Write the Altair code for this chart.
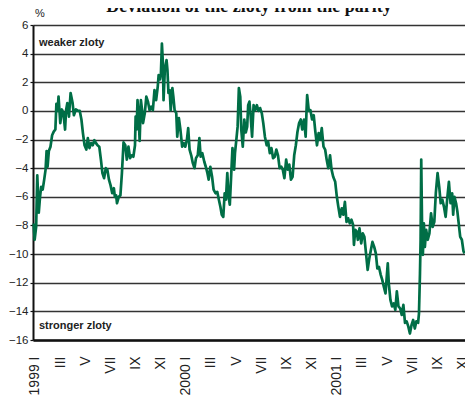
import json
import altair as alt
import pandas as pd

# time in months since January 1999 (0 = Jan 1999)
months = [
    -0.10, -0.02, 0.10, 0.19, 0.31, 0.41, 0.50, 0.62, 0.74, 0.85,
    0.93, 1.01, 1.11, 1.24, 1.37, 1.50, 1.63, 1.71, 1.81, 1.88,
    2.02, 2.15, 2.27, 2.40, 2.48, 2.58, 2.71, 2.84, 3.00, 3.10,
    3.26, 3.43, 3.57, 3.70, 3.82, 3.95, 4.09, 4.21, 4.34, 4.47,
    4.60, 4.73, 4.86, 4.98, 5.12, 5.25, 5.37, 5.50, 5.64, 5.76,
    5.89, 6.02, 6.15, 6.28, 6.36, 6.46, 6.53, 6.67, 6.80, 6.92,
    7.05, 7.19, 7.31, 7.44, 7.57, 7.70, 7.83, 7.96, 8.01, 8.09,
    8.16, 8.24, 8.33, 8.43, 8.53, 8.60, 8.74, 8.86, 8.99, 9.12,
    9.25, 9.38, 9.51, 9.64, 9.77, 9.84, 9.95, 10.02, 10.10, 10.18,
    10.23, 10.33, 10.47, 10.54, 10.62, 10.72, 10.80, 10.93, 11.01, 11.11,
    11.24, 11.32, 11.45, 11.57, 11.71, 11.84, 11.96, 12.09, 12.19, 12.30,
    12.43, 12.56, 12.69, 12.81, 12.95, 13.08, 13.18, 13.31, 13.47, 13.59,
    13.72, 13.82, 13.95, 14.09, 14.21, 14.36, 14.50, 14.63, 14.75, 14.86,
    14.98, 15.09, 15.19, 15.30, 15.40, 15.50, 15.64, 15.71, 15.84, 15.91,
    16.02, 16.12, 16.22, 16.33, 16.41, 16.53, 16.65, 16.77, 16.88, 16.96,
    17.06, 17.14, 17.27, 17.39, 17.52, 17.65, 17.78, 17.91, 18.04, 18.16,
    18.29, 18.43, 18.55, 18.68, 18.81, 18.94, 19.07, 19.20, 19.33, 19.46,
    19.59, 19.71, 19.84, 19.98, 20.10, 20.23, 20.36, 20.49, 20.62, 20.75,
    20.88, 21.01, 21.14, 21.26, 21.40, 21.53, 21.60, 21.65, 21.78, 21.91,
    22.04, 22.17, 22.30, 22.43, 22.56, 22.69, 22.81, 22.95, 23.08, 23.20,
    23.33, 23.47, 23.59, 23.72, 23.88, 24.01, 24.13, 24.26, 24.40, 24.52,
    24.65, 24.78, 24.91, 25.04, 25.17, 25.30, 25.37, 25.48, 25.60, 25.68,
    25.81, 25.95, 26.07, 26.20, 26.33, 26.46, 26.59, 26.72, 26.84, 26.98,
    27.11, 27.23, 27.36, 27.50, 27.62, 27.75, 27.88, 27.96, 28.06, 28.14,
    28.27, 28.40, 28.53, 28.66, 28.78, 28.91, 29.05, 29.17, 29.30, 29.43,
    29.56, 29.69, 29.82, 29.95, 30.08, 30.21, 30.33, 30.47, 30.54, 30.62,
    30.67, 30.72, 30.80, 30.85, 30.93, 31.01, 31.11, 31.24, 31.37, 31.50,
    31.63, 31.76, 31.88, 32.02, 32.15, 32.27, 32.40, 32.53, 32.66, 32.79,
    32.92, 33.05, 33.18, 33.26, 33.36, 33.49, 33.59, 33.70, 33.82, 33.95,
    34.08, 34.16,
]

# deviation of the zloty from the parity, %
deviation = [
    -7.85, -9.0, -8.1, -4.5, -7.1, -6.0, -5.3, -5.5, -4.8, -4.1,
    -2.8, -3.9, -2.8, -2.5, -1.7, -1.45, -1.3, 0.5, 0.0, 1.0,
    -0.85, 0.1, -0.15, -1.3, 0.05, 0.55, -0.4, 1.25, 0.55, -0.3,
    0.1, 0.0, 0.0, -0.6, -1.55, -2.4, -2.7, -1.9, -2.6, -2.25,
    -2.4, -2.05, -2.25, -2.4, -2.5, -3.4, -4.35, -4.7, -4.0, -4.1,
    -4.8, -5.2, -5.75, -5.4, -6.0, -5.9, -6.45, -6.0, -5.9, -4.35,
    -2.2, -2.4, -3.4, -2.5, -3.3, -3.1, -3.2, -2.4, -0.4, -1.3,
    0.75, -0.15, -2.1, 0.75, 0.0, -0.85, -0.15, 1.0, 0.65, 0.05,
    0.3, 0.05, 1.45, 0.75, 1.7, 2.5, 2.2, 2.6, 4.7, 3.3,
    0.75, 2.85, 3.55, 2.85, 1.25, 1.45, 0.05, 1.6, 1.0, 0.05,
    -0.15, -1.8, -0.5, -1.3, -2.5, -2.25, -2.5, -2.0, -1.2, -2.7,
    -3.1, -3.65, -4.0, -3.3, -3.1, -1.9, -3.2, -2.95, -3.55, -3.9,
    -4.35, -4.8, -3.9, -4.6, -5.5, -5.75, -5.65, -6.2, -6.7, -7.25,
    -7.4, -5.75, -6.2, -4.35, -6.0, -6.55, -3.9, -2.6, -4.1, -2.95,
    -2.0, -1.1, 1.6, 1.0, -1.3, -2.5, -0.6, -1.5, -1.1, 0.4,
    0.65, -0.15, -1.8, 0.4, 0.05, 0.4, 0.0, 0.2, -0.15, -0.85,
    -1.8, -2.4, -2.15, -2.95, -2.6, -3.3, -3.2, -2.7, -3.1, -4.0,
    -3.9, -4.1, -4.7, -3.4, -4.1, -3.75, -4.8, -4.6, -3.1, -2.4,
    -1.45, -0.85, -0.6, -1.3, -0.6, -1.8, 0.05, 1.1, 0.0, 0.05,
    -0.6, -0.3, -1.45, -2.4, -1.55, -2.0, -1.2, -2.5, -2.7, -3.4,
    -4.0, -3.1, -4.1, -4.6, -4.95, -6.0, -6.7, -7.4, -6.8, -7.25,
    -6.35, -7.75, -7.5, -7.85, -7.6, -7.95, -9.35, -8.3, -8.45, -9.0,
    -8.2, -9.25, -8.55, -8.8, -9.95, -11.1, -10.3, -9.7, -9.15, -9.5,
    -9.95, -11.0, -10.9, -11.45, -11.8, -12.3, -12.75, -11.8, -10.65, -12.05,
    -13.2, -13.65, -13.45, -13.9, -12.6, -13.65, -13.8, -14.25, -13.55, -14.8,
    -14.7, -15.05, -15.55, -14.95, -14.6, -15.2, -14.7, -14.8, -14.15, -11.35,
    -9.0, -3.4, -9.0, -10.05, -7.85, -9.5, -8.3, -9.0, -8.55, -7.15,
    -8.1, -7.75, -5.75, -4.35, -5.3, -6.45, -6.2, -6.7, -7.4, -6.1,
    -4.95, -6.45, -5.75, -7.25, -6.0, -6.45, -7.0, -7.85, -8.8, -9.0,
    -9.8, -9.95,
]

tick_months = list(range(0, 35, 2))
tick_labels = [
    "1999 I", "III", "V", "VII", "IX", "XI",
    "2000 I", "III", "V", "VII", "IX", "XI",
    "2001 I", "III", "V", "VII", "IX", "XI",
]
y_ticks = list(range(-16, 7, 2))

title_text = "Deviation of the zloty from the parity"
unit_text = "%"
top_note = "weaker zloty"
bottom_note = "stronger zloty"

df = pd.DataFrame({"month": months, "deviation": deviation})

label_expr = json.dumps(tick_labels) + "[round(datum.value / 2)]"

x_enc = alt.X(
    "month:Q",
    scale=alt.Scale(domain=[-0.15, 34.2], nice=False, zero=False),
    axis=alt.Axis(
        values=tick_months,
        labelExpr=label_expr,
        labelAngle=270,
        labelFont="Liberation Sans",
        labelFontSize=14,
        labelColor="#222222",
        labelPadding=16,
        labelOverlap=False,
        labelBound=False,
        ticks=False,
        grid=False,
        domainColor="#111111",
        domainWidth=2.5,
        title=None,
    ),
)
y_enc = alt.Y(
    "deviation:Q",
    scale=alt.Scale(domain=[-16, 6], nice=False, zero=False),
    axis=alt.Axis(
        values=y_ticks,
        labelFont="Liberation Sans",
        labelFontSize=11.5,
        labelColor="#222222",
        labelPadding=2,
        tickColor="#111111",
        tickSize=3,
        tickWidth=1.2,
        domainColor="#111111",
        domainWidth=2,
        gridColor="#333333",
        gridWidth=1.3,
        title=None,
    ),
)

line = alt.Chart(df).mark_line(
    color="#006e46", strokeWidth=2.7, strokeJoin="round"
).encode(x=x_enc, y=y_enc)


def note(text, x, y, size, weight="bold", font="Liberation Sans", align="left", color="#222222"):
    return alt.Chart(pd.DataFrame({"t": [text]})).mark_text(
        align=align, baseline="alphabetic", font=font, fontSize=size,
        fontWeight=weight, color=color,
    ).encode(x=alt.value(x), y=alt.value(y), text="t:N")


title = note(title_text, 216, -13, 18, font="Liberation Serif", align="center", color="#111111")
unit = note(unit_text, 2, -8, 11, weight="normal")
weaker = note(top_note, 6, 21, 11)
stronger = note(bottom_note, 6, 304, 11)

chart = alt.layer(line, title, unit, weaker, stronger).properties(
    width=432,
    height=315,
    autosize=alt.AutoSizeParams(type="none"),
    padding={"left": 25, "top": 17, "right": 0, "bottom": 55},
    background="white",
).configure_view(stroke=None)

chart.save("out.html", embed_options={"renderer": "svg", "actions": False})
